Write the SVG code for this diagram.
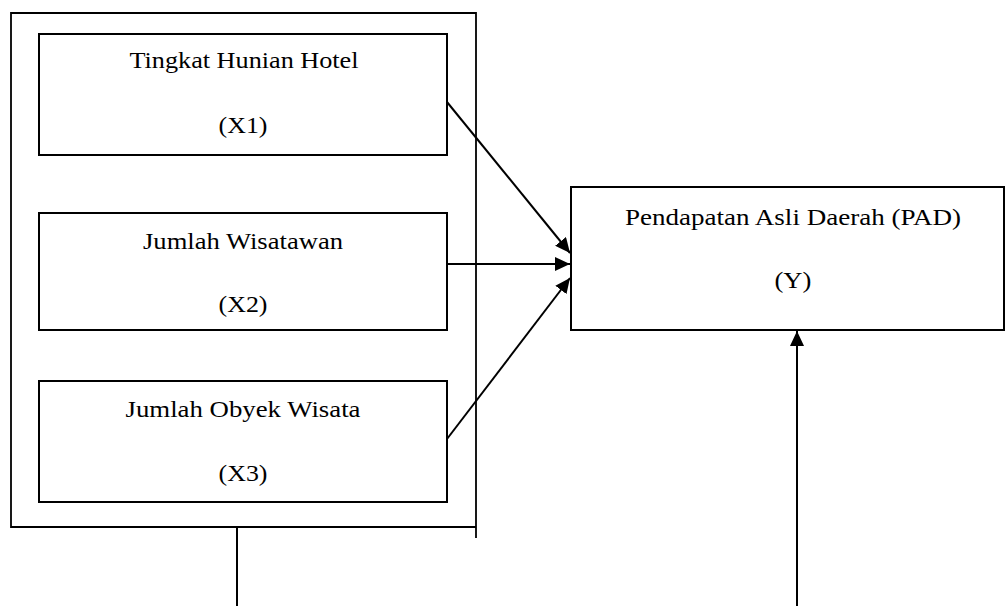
<svg xmlns="http://www.w3.org/2000/svg" width="1007" height="606" viewBox="0 0 1007 606">
<style>
.box{fill:#fff;stroke:#000;stroke-width:2}
.t{font-family:"Liberation Serif","Times New Roman",serif;font-size:24px;fill:#000;text-anchor:middle}
.c{fill:none;stroke:#000;stroke-width:2}
</style>
<defs>
<marker id="ah" markerUnits="userSpaceOnUse" markerWidth="16" markerHeight="14" refX="15" refY="7" orient="auto">
<path d="M0,0 L15,7 L0,14 Z" fill="#000"/>
</marker>
</defs>
<g id="group-x">
<path d="M476,538 V13 H11 V527 H476" fill="none" stroke="#000" stroke-width="1.8"/>
</g>
<g id="x1">
<rect class="box" x="39" y="34" width="408" height="121"/>
<text class="t" x="244" y="68" textLength="229" lengthAdjust="spacingAndGlyphs">Tingkat Hunian Hotel</text>
<text class="t" x="243" y="133" textLength="49" lengthAdjust="spacingAndGlyphs">(X1)</text>
</g>
<g id="x2">
<rect class="box" x="39" y="213" width="408" height="117"/>
<text class="t" x="243" y="249" textLength="200" lengthAdjust="spacingAndGlyphs">Jumlah Wisatawan</text>
<text class="t" x="243" y="312" textLength="49" lengthAdjust="spacingAndGlyphs">(X2)</text>
</g>
<g id="x3">
<rect class="box" x="39" y="381" width="408" height="121"/>
<text class="t" x="243" y="417" textLength="235" lengthAdjust="spacingAndGlyphs">Jumlah Obyek Wisata</text>
<text class="t" x="243" y="481" textLength="49" lengthAdjust="spacingAndGlyphs">(X3)</text>
</g>
<g id="y">
<rect class="box" x="571" y="187" width="433" height="143"/>
<text class="t" x="793" y="225" textLength="336" lengthAdjust="spacingAndGlyphs">Pendapatan Asli Daerah (PAD)</text>
<text class="t" x="793" y="288" textLength="37" lengthAdjust="spacingAndGlyphs">(Y)</text>
</g>
<g id="connectors">
<line class="c" x1="447" y1="102" x2="570" y2="253" marker-end="url(#ah)"/>
<line class="c" x1="447" y1="264" x2="570" y2="264" marker-end="url(#ah)"/>
<line class="c" x1="447" y1="439" x2="570" y2="278" marker-end="url(#ah)"/>
<line class="c" x1="237" y1="527" x2="237" y2="606"/>
<line class="c" x1="797" y1="606" x2="797" y2="331" marker-end="url(#ah)"/>
</g>
</svg>
